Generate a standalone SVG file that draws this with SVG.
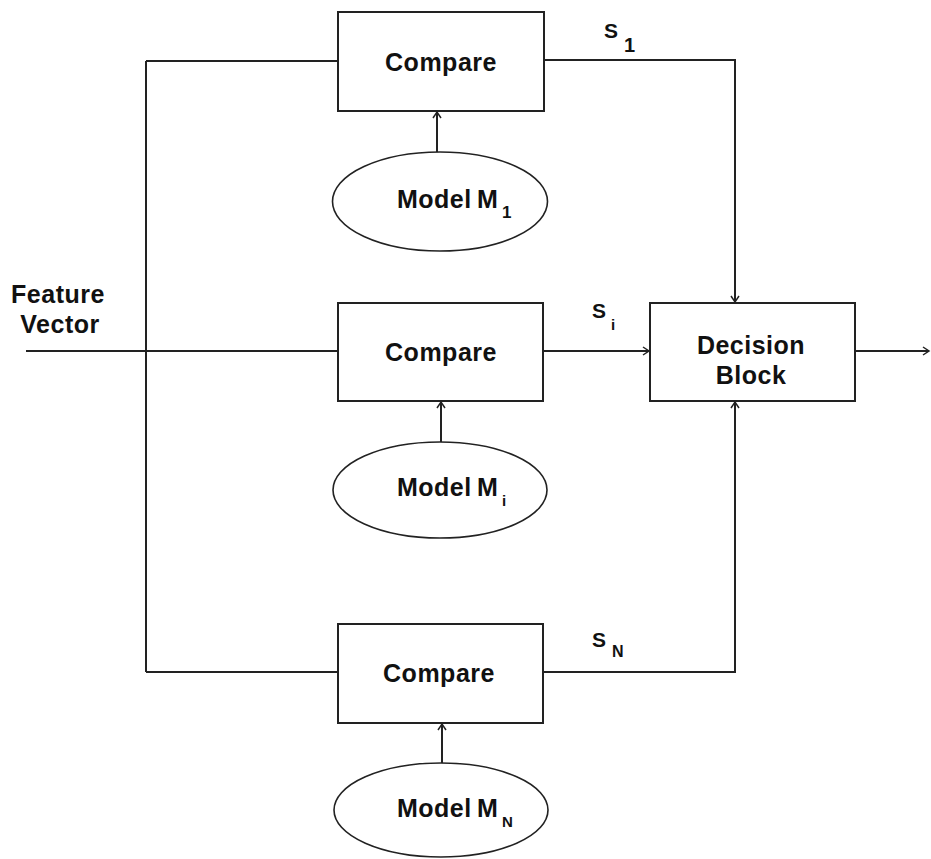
<svg xmlns="http://www.w3.org/2000/svg" width="931" height="859" viewBox="0 0 931 859">
  <defs>
    <style>
      .box { fill: #fff; stroke: #222; stroke-width: 2; }
      .model { fill: #fff; stroke: #222; stroke-width: 1.6; }
      .wire { fill: none; stroke: #222; stroke-width: 2; }
      .lbl { font-family: "Liberation Sans", Arial, sans-serif; font-weight: bold; font-size: 25px; fill: #111; letter-spacing: 0.5px; }
      .sig { font-family: "Liberation Sans", Arial, sans-serif; font-weight: bold; font-size: 21px; fill: #111; }
      .sub { font-family: "Liberation Sans", Arial, sans-serif; font-weight: bold; fill: #111; }
    </style>
    <marker id="arr" viewBox="-8 -6 10 12" markerWidth="10" markerHeight="12" refX="0" refY="0" orient="auto" markerUnits="userSpaceOnUse">
      <path d="M-6,-4 L0,0 L-6,4" fill="none" stroke="#222" stroke-width="1.5"/>
    </marker>
  </defs>
  <rect width="931" height="859" fill="#fff"/>

  <!-- connectors -->
  <g id="connectors">
    <!-- feature vector input and distribution bus -->
    <path class="wire" d="M26,351 H338"/>
    <path class="wire" d="M146,61 V672"/>
    <path class="wire" d="M146,61 H338"/>
    <path class="wire" d="M146,672 H338"/>
    <!-- model to compare -->
    <path class="wire" d="M437,152 V112" marker-end="url(#arr)"/>
    <path class="wire" d="M441,442 V402" marker-end="url(#arr)"/>
    <path class="wire" d="M442,763 V724" marker-end="url(#arr)"/>
    <!-- scores to decision block -->
    <path class="wire" d="M544,60 H735 V302" marker-end="url(#arr)"/>
    <path class="wire" d="M543,351 H649" marker-end="url(#arr)"/>
    <path class="wire" d="M543,672 H735 V402" marker-end="url(#arr)"/>
    <!-- output -->
    <path class="wire" d="M855,351 H929" marker-end="url(#arr)"/>
  </g>

  <!-- score labels -->
  <g id="labels">
    <text class="sig" x="604" y="38">S</text>
    <text class="sub" x="624" y="52" font-size="20">1</text>
    <text class="sig" x="592" y="318">S</text>
    <text class="sub" x="611" y="330" font-size="15">i</text>
    <text class="sig" x="592" y="647">S</text>
    <text class="sub" x="612" y="657" font-size="16">N</text>
    <text class="lbl" x="58" y="303" text-anchor="middle">Feature</text>
    <text class="lbl" x="60" y="333" text-anchor="middle">Vector</text>
  </g>

  <!-- compare blocks -->
  <g id="compare1">
    <rect class="box" x="338" y="12" width="206" height="99"/>
    <text class="lbl" x="441" y="71" text-anchor="middle">Compare</text>
  </g>
  <g id="compareI">
    <rect class="box" x="338" y="303" width="205" height="98"/>
    <text class="lbl" x="441" y="361" text-anchor="middle">Compare</text>
  </g>
  <g id="compareN">
    <rect class="box" x="338" y="624" width="205" height="99"/>
    <text class="lbl" x="439" y="682" text-anchor="middle">Compare</text>
  </g>

  <!-- models -->
  <g id="model1">
    <ellipse class="model" cx="440" cy="201.5" rx="107.5" ry="49.5"/>
    <text class="lbl" x="397" y="208">Model</text>
    <text class="lbl" x="477" y="208">M</text>
    <text class="sub" x="502" y="218" font-size="17">1</text>
  </g>
  <g id="modelI">
    <ellipse class="model" cx="440" cy="490" rx="107" ry="48"/>
    <text class="lbl" x="397" y="496">Model</text>
    <text class="lbl" x="477" y="496">M</text>
    <text class="sub" x="502" y="506" font-size="15">i</text>
  </g>
  <g id="modelN">
    <ellipse class="model" cx="441" cy="810" rx="107" ry="47"/>
    <text class="lbl" x="397" y="817">Model</text>
    <text class="lbl" x="477" y="817">M</text>
    <text class="sub" x="502" y="827" font-size="15">N</text>
  </g>

  <!-- decision -->
  <g id="decision">
    <rect class="box" x="650" y="303" width="205" height="98"/>
    <text class="lbl" x="751" y="354" text-anchor="middle">Decision</text>
    <text class="lbl" x="751" y="384" text-anchor="middle">Block</text>
  </g>
</svg>
